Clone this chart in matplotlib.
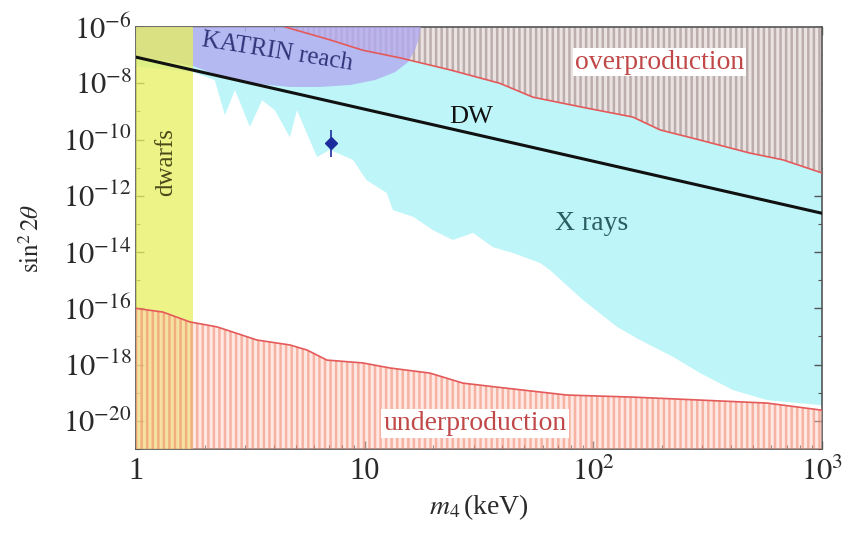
import numpy as np
import matplotlib
matplotlib.use('Agg')
import matplotlib.pyplot as plt
from matplotlib.ticker import NullFormatter

plt.rcParams['font.family'] = ['Liberation Serif', 'DejaVu Serif']
plt.rcParams['mathtext.fontset'] = 'stix'
plt.rcParams['hatch.linewidth'] = 1.8

# overproduction boundary (region above is excluded)
over_m = [4.2, 4.5, 7.05, 9.8, 14.3, 23.6, 39, 54.5, 90, 149, 196, 293, 484, 675, 1000]
over_s = [1.3e-6, 1e-6, 3.5e-7, 1.5e-7, 8e-8, 3e-8, 1.0e-8, 3.2e-9, 1.4e-9, 6.3e-10,
          2.2e-10, 9.6e-11, 3.3e-11, 1.9e-11, 6.5e-12]

# underproduction boundary (region below is excluded)
under_m = [1, 1.31, 1.72, 2.26, 3.38, 4.71, 5.6, 6.84, 9.8, 12.9, 19.3, 26.9, 40.3,
           76.7, 149, 293, 575, 1000]
under_s = [1.0e-16, 7.4e-17, 3.3e-17, 2.2e-17, 7.5e-18, 5e-18, 3.3e-18, 1.45e-18,
           1.15e-18, 7.6e-19, 5e-19, 2.2e-19, 1.5e-19, 8.3e-20, 7e-20, 5.5e-20,
           4.3e-20, 2.4e-20]

# X-ray exclusion, lower edge
xray_m = [1, 1.78, 2.21, 2.45, 2.71, 3.15, 3.56, 4.05, 4.71, 5.06, 6.19, 7.05, 8.89,
          10.2, 12.5, 13.3, 16.3, 19.9, 24.3, 29.8, 36.4, 44.5, 58.5, 64.6, 90, 127,
          160, 223, 293, 408, 575, 1000]
xray_s = [4e-8, 2.5e-8, 1.3e-8, 7.4e-10, 5.8e-9, 2.8e-10, 2.5e-9, 1.1e-9, 1.2e-10,
          1.1e-9, 2.4e-11, 4.3e-11, 1.9e-11, 3.6e-12, 1.26e-12, 3.1e-13, 1.8e-13,
          6e-14, 2.7e-14, 4.8e-14, 1.5e-14, 9.3e-15, 4.1e-15, 2.3e-15, 2e-16, 2.2e-17,
          7.5e-18, 1.9e-18, 5e-19, 1.25e-19, 5.5e-20, 3.6e-20]

# KATRIN reach contour (lower edge, runs into the dwarf band)
katrin_m = [1, 1.31, 1.78, 2.04, 2.28, 2.71, 3.49, 4.72, 6.38, 8.63, 11.1, 13.6,
            15.5, 16.6, 17.3, 17.6]
katrin_s = [9.3e-8, 6.5e-8, 4.1e-8, 2.7e-8, 2.0e-8, 1.4e-8, 9.3e-9, 7.4e-9, 7.4e-9,
            8.7e-9, 1.3e-8, 2.5e-8, 5.7e-8, 1.5e-7, 4.1e-7, 1e-6]

# dwarf galaxy bound
dwarf_m = 1.78

# Dodelson-Widrow line
dw_m = [1, 1000]
dw_s = [8.5e-8, 2.4e-13]

# 3.5 keV line point
pt_m = 7.1
pt_s = 7.4e-11
pt_lo = 2.4e-11
pt_hi = 2.2e-10

fig = plt.figure(figsize=(8.44, 5.35), dpi=100)
ax = fig.add_axes([0.1611, 0.1607, 0.8128, 0.7888])
ax.set_xscale('log')
ax.set_yscale('log')
ax.set_xlim(1, 1000)
ax.set_ylim(1e-21, 1e-6)

top = 1e-6
ax.fill_between(xray_m, xray_s, top, facecolor='#bdf5f8', edgecolor='none', zorder=1)
ax.fill_between(over_m, over_s, 2e-6, facecolor='#ebe2e2', edgecolor='#bdaeae',
                hatch='|||', linewidth=0, zorder=2)
ax.fill(katrin_m + [1], katrin_s + [top], facecolor='#b2aaf0', alpha=0.8,
        edgecolor='none', zorder=3)
ax.axvspan(1, dwarf_m, facecolor='#e8ef5f', alpha=0.75, edgecolor='none', zorder=4)
ax.fill_between(under_m, 1e-22, under_s, facecolor=(1.0, 0.80, 0.76, 0.45),
                edgecolor=(0.93, 0.45, 0.33, 0.45), hatch='|||', linewidth=0, zorder=5)

ax.plot(over_m, over_s, color='#e45a5a', lw=1.2, zorder=6)
ax.plot(under_m, under_s, color='#e45a5a', lw=1.2, zorder=6)
ax.plot(dw_m, dw_s, color='#111111', lw=2.2, zorder=7)

ax.errorbar([pt_m], [pt_s], yerr=[[pt_s - pt_lo], [pt_hi - pt_s]], fmt='D',
            color='#1c2c9c', ms=6, elinewidth=1.2, capsize=0, zorder=8)

txt = dict(fontsize=20, zorder=9, ha='center', va='center')
ax.text(4.14, 1.3e-7, 'KATRIN reach', color='#34347a', fontsize=18, rotation=-9,
        ha='center', va='center', zorder=9)
ax.text(195, 5.7e-8, 'overproduction', color='#c04848',
        bbox=dict(facecolor='white', edgecolor='none', pad=1.5), **txt)
ax.text(30.4, 7.8e-21, 'underproduction', color='#c04848',
        bbox=dict(facecolor='white', edgecolor='none', pad=1.5), **txt)
ax.text(29.2, 6.5e-10, 'DW', color='#111111', fontsize=19, ha='center', va='center',
        zorder=9)
ax.text(98.6, 1e-13, 'X rays', color='#2a5e5e', **txt)
ax.text(1.35, 1.6e-11, 'dwarfs', color='#4a4a1a', rotation=90, fontsize=18,
        ha='center', va='center', zorder=9)

ax.set_xticks([1, 10, 100, 1000])
ax.set_xticklabels(['1', '10', '$10^2$', '$10^3$'])
ax.xaxis.set_minor_formatter(NullFormatter())
yt = [10.0 ** k for k in range(-20, -5, 2)]
ax.set_yticks(yt)
ax.set_yticklabels(['$10^{%d}$' % k for k in range(-20, -5, 2)])
ax.set_yticks([10.0 ** k for k in range(-21, -5, 2)], minor=True)
ax.yaxis.set_minor_formatter(NullFormatter())
ax.tick_params(which='both', direction='in', top=True, right=True, colors='#555555',
               labelcolor='#2a2a2a', labelsize=22)
ax.tick_params(which='major', length=6, width=1)
ax.tick_params(which='minor', length=3, width=0.8)
ax.tick_params(axis='x', pad=6)
ax.tick_params(axis='y', pad=3)
for sp in ax.spines.values():
    sp.set_color('#555555')
    sp.set_linewidth(1.2)

ax.set_xlabel(r'$m_4\,$(keV)', fontsize=20, color='#2a2a2a', labelpad=4)
ax.set_ylabel(r'$\sin^2 2\theta$', fontsize=18, color='#2a2a2a', labelpad=14)

fig.savefig('out.png', dpi=100)
